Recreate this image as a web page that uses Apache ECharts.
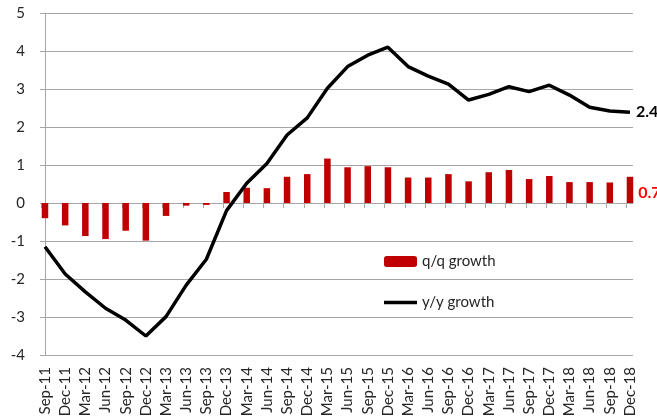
<!DOCTYPE html>
<html>
<head>
<meta charset="utf-8">
<script src="https://cdn.jsdelivr.net/npm/echarts@6/dist/echarts.min.js"></script>
<style>
  html, body { margin: 0; padding: 0; background: #fff; }
  #chart { width: 657px; height: 420px; }
</style>
</head>
<body>
<div id="chart"></div>
<script>
// quarters
const categories = [
  'Sep-11', 'Dec-11', 'Mar-12', 'Jun-12', 'Sep-12', 'Dec-12', 'Mar-13', 'Jun-13', 'Sep-13', 'Dec-13',
  'Mar-14', 'Jun-14', 'Sep-14', 'Dec-14', 'Mar-15', 'Jun-15', 'Sep-15', 'Dec-15', 'Mar-16', 'Jun-16',
  'Sep-16', 'Dec-16', 'Mar-17', 'Jun-17', 'Sep-17', 'Dec-17', 'Mar-18', 'Jun-18', 'Sep-18', 'Dec-18'
];
// q/q growth (bars)
const qqGrowth = [
  -0.40, -0.59, -0.87, -0.95, -0.73, -0.99, -0.34, -0.07, -0.05, 0.29,
  0.40, 0.39, 0.69, 0.76, 1.17, 0.94, 0.97, 0.94, 0.67, 0.67,
  0.76, 0.57, 0.81, 0.87, 0.63, 0.71, 0.55, 0.55, 0.54, 0.69
];
// y/y growth (line)
const yyGrowth = [
  -1.15, -1.87, -2.34, -2.77, -3.08, -3.50, -2.99, -2.16, -1.48, -0.20,
  0.52, 1.04, 1.79, 2.24, 3.02, 3.59, 3.89, 4.10, 3.59, 3.34,
  3.13, 2.71, 2.86, 3.06, 2.93, 3.10, 2.84, 2.52, 2.42, 2.39
];
const yMin = -4;
const yMax = 5;

const font = 'Lato';
const gridColor = '#a6a6a6';
const idx = categories.map((c, i) => i);

const chart = echarts.init(document.getElementById('chart'));
const option = {
  backgroundColor: '#fff',
  animation: false,
  grid: { left: 41, right: 24, top: 13, bottom: 65 },
  legend: [
    {
      data: ['q/q growth'],
      left: 379, top: 249,
      itemWidth: 33, itemHeight: 11,
      textStyle: { fontFamily: font, fontSize: 15, color: '#262626' }
    },
    {
      data: [{ name: 'y/y growth', icon: 'rect' }],
      left: 379, top: 290,
      itemWidth: 33, itemHeight: 3.5,
      textStyle: { fontFamily: font, fontSize: 15, color: '#262626' }
    }
  ],
  xAxis: [
    {
      // labels at the bottom
      type: 'value',
      min: -0.198, max: 29.15,
      position: 'bottom',
      axisLine: { show: false, onZero: false },
      axisTick: { show: false },
      splitLine: { show: false },
      axisLabel: {
        customValues: idx,
        formatter: v => categories[Math.round(v)],
        rotate: 90,
        margin: 12,
        fontFamily: font,
        fontSize: 15,
        color: '#262626'
      }
    },
    {
      // axis line through zero with ticks
      type: 'value',
      min: -0.198, max: 29.15,
      position: 'bottom',
      axisLine: { show: true, onZero: true, lineStyle: { color: gridColor, width: 1 } },
      axisTick: {
        show: true,
        customValues: idx.map(i => i - 0.165),
        length: 5,
        lineStyle: { color: gridColor }
      },
      axisLabel: { show: false },
      splitLine: { show: false }
    }
  ],
  yAxis: {
    type: 'value',
    min: yMin, max: yMax, interval: 1,
    axisLine: { show: true, lineStyle: { color: gridColor, width: 1 } },
    axisTick: { show: true, length: 5, lineStyle: { color: gridColor } },
    splitLine: { lineStyle: { color: gridColor, width: 1 } },
    axisLabel: { margin: 16, fontFamily: font, fontSize: 15, color: '#262626' }
  },
  series: [
    {
      name: 'q/q growth',
      type: 'bar',
      xAxisIndex: 0,
      barWidth: 6.5,
      itemStyle: { color: '#c00000' },
      data: qqGrowth.map((v, i) => {
        const d = { value: [i, v] };
        if (i === qqGrowth.length - 1) {
          d.label = {
            show: true,
            position: 'right',
            distance: 5,
            offset: [0, 3],
            formatter: p => p.value[1].toFixed(1),
            fontFamily: font,
            fontSize: 16,
            fontWeight: 'bold',
            color: '#ff0000'
          };
        }
        return d;
      })
    },
    {
      name: 'y/y growth',
      type: 'line',
      xAxisIndex: 0,
      symbol: 'none',
      lineStyle: { color: '#000', width: 3.5 },
      itemStyle: { color: '#000' },
      endLabel: {
        show: true,
        distance: 6,
        formatter: p => p.value[1].toFixed(1),
        fontFamily: font,
        fontSize: 16,
        fontWeight: 'bold',
        color: '#000'
      },
      data: yyGrowth.map((v, i) => [i, v])
    }
  ]
};
chart.setOption(option);
</script>
</body>
</html>
